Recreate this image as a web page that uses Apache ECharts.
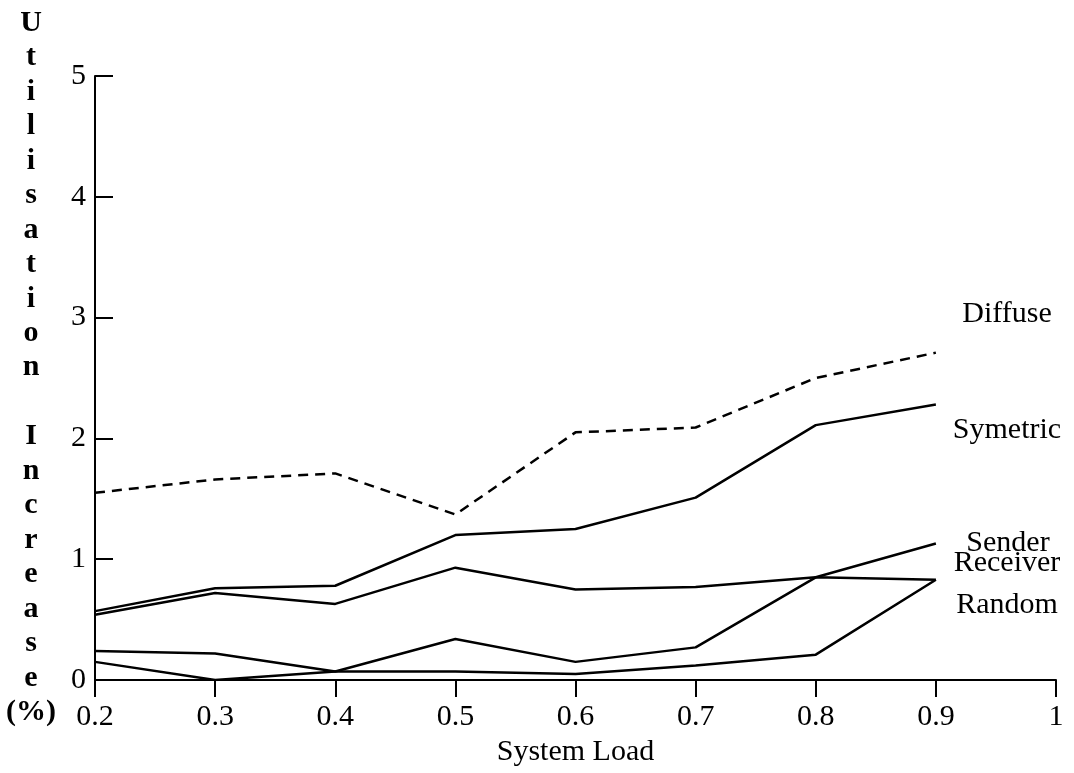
<!DOCTYPE html>
<html>
<head>
<meta charset="utf-8">
<script src="https://cdn.jsdelivr.net/npm/echarts@6/dist/echarts.min.js"></script>
<style>
html,body{margin:0;padding:0;background:#fff;}
#chart{width:1074px;height:773px;}
</style>
</head>
<body>
<div id="chart"></div>
<script>
// ---- data ----
const loads = ['0.2','0.3','0.4','0.5','0.6','0.7','0.8','0.9','1'];
const diffuse  = [1.55, 1.66, 1.71, 1.37, 2.05, 2.09, 2.50, 2.71];
const symetric = [0.57, 0.76, 0.78, 1.20, 1.25, 1.51, 2.11, 2.28];
const sender   = [0.24, 0.22, 0.07, 0.34, 0.15, 0.27, 0.85, 1.13];
const receiver = [0.54, 0.72, 0.63, 0.93, 0.75, 0.77, 0.85, 0.83];
const random   = [0.15, 0.00, 0.07, 0.07, 0.05, 0.12, 0.21, 0.83];
const yTitle = 'Utilisation Increase';
const xTitle = 'System Load';
const seriesLabels = ['Diffuse','Symetric','Sender','Receiver','Random'];

const FONT = '"Liberation Serif", "DejaVu Serif", serif';
const chart = echarts.init(document.getElementById('chart'));

const titleLetters = yTitle.split('').concat(['(%)']);

function line(name, data, dashed) {
  return {
    name, type: 'line', data, symbol: 'none', silent: true,
    lineStyle: { color: '#000', width: 2.5, type: dashed ? [10, 7] : 'solid' }
  };
}

function label(text, x, y) {
  return { type: 'text', x, y, style: { text, fontFamily: FONT, fontSize: 30, fill: '#000', align: 'center', verticalAlign: 'middle' } };
}

chart.setOption({
  animation: false,
  backgroundColor: '#fff',
  grid: { left: 95, right: 18, top: 76, bottom: 93, containLabel: false },
  xAxis: {
    type: 'category', data: loads, boundaryGap: false,
    name: xTitle, nameLocation: 'middle', nameGap: 53,
    nameTextStyle: { fontFamily: FONT, fontSize: 30, color: '#000' },
    axisLine: { lineStyle: { color: '#000', width: 2 } },
    axisTick: { show: true, inside: false, length: 17, alignWithLabel: true, lineStyle: { color: '#000', width: 2 } },
    axisLabel: { fontFamily: FONT, fontSize: 30, color: '#000', margin: 22, interval: 0 },
    splitLine: { show: false }
  },
  yAxis: {
    type: 'value', min: 0, max: 5, interval: 1,
    axisLine: { show: true, lineStyle: { color: '#000', width: 2 } },
    axisTick: { show: true, inside: true, length: 18, lineStyle: { color: '#000', width: 2 } },
    axisLabel: { fontFamily: FONT, fontSize: 30, color: '#000', margin: 9 },
    splitLine: { show: false }
  },
  graphic: [
    {
      type: 'text', x: 31, y: 6,
      style: {
        text: titleLetters.join('\n'), fontFamily: FONT, fontSize: 30, fontWeight: 'bold',
        lineHeight: 34.45, fill: '#000', align: 'center', verticalAlign: 'top'
      }
    },
    label(seriesLabels[0], 1007, 314),
    label(seriesLabels[1], 1007, 430),
    label(seriesLabels[2], 1008, 543),
    label(seriesLabels[3], 1007, 563),
    label(seriesLabels[4], 1007, 605)
  ],
  series: [
    line('Diffuse', diffuse, true),
    line('Symetric', symetric, false),
    line('Sender', sender, false),
    line('Receiver', receiver, false),
    line('Random', random, false)
  ]
});
</script>
</body>
</html>
